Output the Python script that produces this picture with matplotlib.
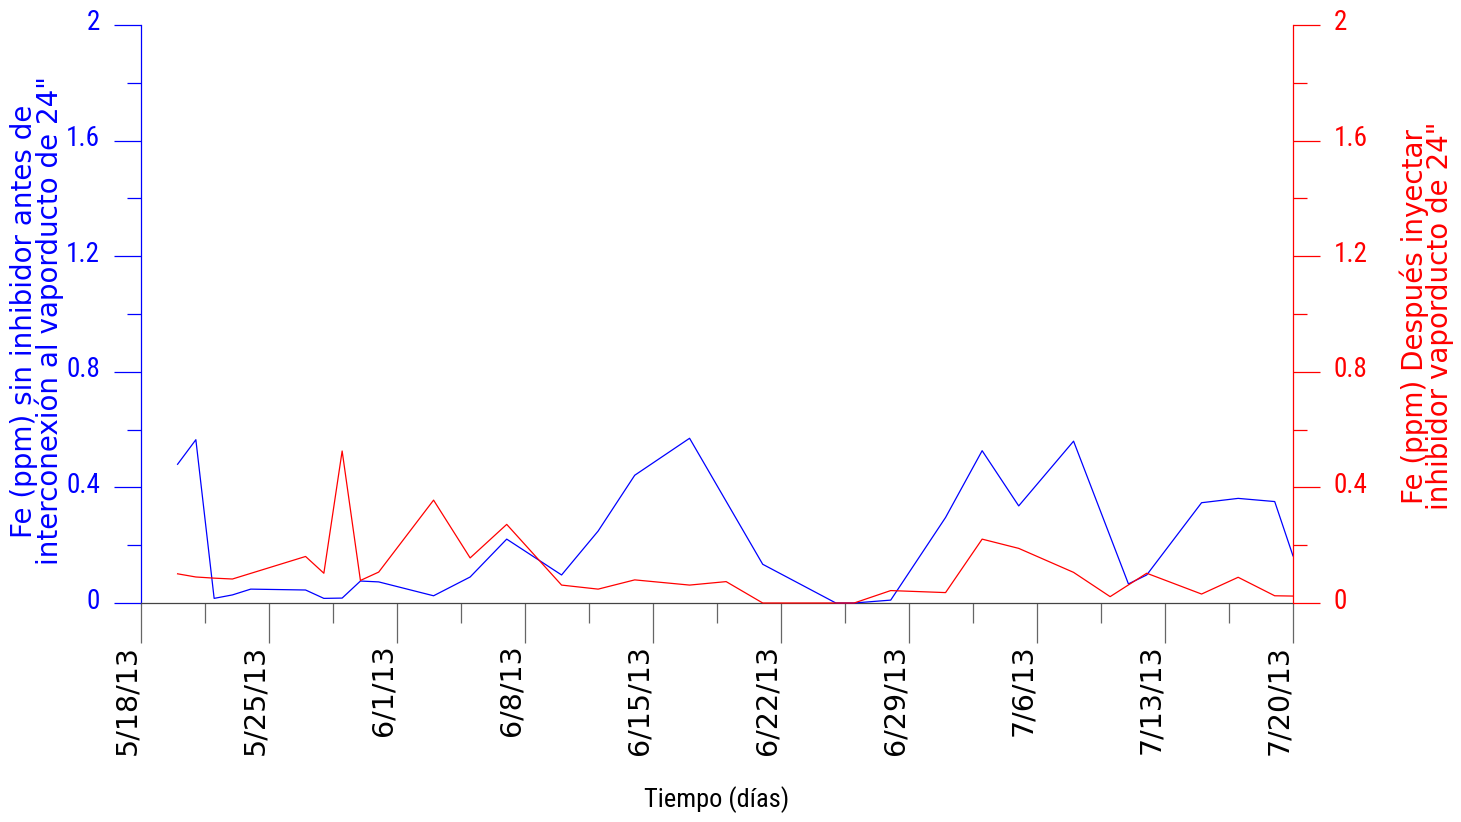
import pandas as pd
import matplotlib
matplotlib.use("Agg")
import matplotlib.pyplot as plt
import matplotlib.dates as mdates
import matplotlib.transforms as mtransforms

# Fe before inhibitor (left axis)
fe_sin_fechas = ["2013-05-20", "2013-05-21", "2013-05-22", "2013-05-23", "2013-05-24",
                 "2013-05-27", "2013-05-28", "2013-05-29", "2013-05-30", "2013-05-31",
                 "2013-06-03", "2013-06-05", "2013-06-07", "2013-06-10", "2013-06-12",
                 "2013-06-14", "2013-06-17", "2013-06-21", "2013-06-25", "2013-06-26",
                 "2013-06-28", "2013-07-01", "2013-07-03", "2013-07-05", "2013-07-08",
                 "2013-07-11", "2013-07-12", "2013-07-15", "2013-07-17", "2013-07-19",
                 "2013-07-20"]
fe_sin = [0.48, 0.565, 0.016, 0.028, 0.048,
          0.045, 0.016, 0.017, 0.076, 0.073,
          0.025, 0.090, 0.221, 0.097, 0.249,
          0.442, 0.570, 0.134, 0.0, 0.0,
          0.010, 0.296, 0.527, 0.336, 0.560,
          0.066, 0.097, 0.347, 0.362, 0.351,
          0.163]

# Fe after injecting inhibitor (right axis)
fe_con_fechas = ["2013-05-20", "2013-05-21", "2013-05-22", "2013-05-23",
                 "2013-05-27", "2013-05-28", "2013-05-29", "2013-05-30", "2013-05-31",
                 "2013-06-03", "2013-06-05", "2013-06-07", "2013-06-10", "2013-06-12",
                 "2013-06-14", "2013-06-17", "2013-06-19", "2013-06-21", "2013-06-26",
                 "2013-06-28", "2013-07-01", "2013-07-03", "2013-07-05", "2013-07-08",
                 "2013-07-10", "2013-07-12", "2013-07-15", "2013-07-17", "2013-07-19",
                 "2013-07-20"]
fe_con = [0.101, 0.090, 0.086, 0.083,
          0.161, 0.103, 0.526, 0.078, 0.107,
          0.356, 0.156, 0.272, 0.062, 0.048,
          0.080, 0.062, 0.074, 0.0, 0.0,
          0.043, 0.036, 0.221, 0.189, 0.106,
          0.022, 0.103, 0.031, 0.089, 0.025,
          0.024]

y_ticks = [0, 0.4, 0.8, 1.2, 1.6, 2]
y_labels = ["0", "0.4", "0.8", "1.2", "1.6", "2"]

narrow = ["Roboto Condensed", "Liberation Sans", "DejaVu Sans"]
wide = ["DejaVu Sans"]

W, H = 1461, 822
fig = plt.figure(figsize=(W / 100, H / 100), dpi=100)
ax = fig.add_axes([141 / W, 1 - 603 / H, 1152 / W, 578 / H])
ax2 = ax.twinx()

x1 = pd.to_datetime(fe_sin_fechas)
x2 = pd.to_datetime(fe_con_fechas)
ax.plot(x1, fe_sin, color="#0000ff", lw=0.9, clip_on=False, zorder=3)
ax2.plot(x2, fe_con, color="#ff0000", lw=0.9, clip_on=False, zorder=3)

for a in (ax, ax2):
    a.set_ylim(0, 2)
    a.set_xlim(pd.Timestamp("2013-05-18"), pd.Timestamp("2013-07-20"))
    a.spines["top"].set_visible(False)

ax.spines["right"].set_visible(False)
ax2.spines["left"].set_visible(False)
ax2.spines["bottom"].set_visible(False)
ax.spines["left"].set_color("#0000ff")
ax2.spines["right"].set_color("#ff0000")
ax.spines["bottom"].set_color("#444444")
for s in ("left", "bottom"):
    ax.spines[s].set_linewidth(0.9)
ax2.spines["right"].set_linewidth(0.9)

# x axis: weekly labels, half-week minor ticks
major = pd.date_range("2013-05-18", "2013-07-20", freq="7D")
minor = pd.date_range("2013-05-18", "2013-07-20", freq="84h")
ax.set_xticks(mdates.date2num(major))
ax.set_xticks(mdates.date2num(minor), minor=True)
ax.set_xticklabels([f"{d.month}/{d.day}/{d.year % 100}" for d in major],
                   rotation=90, ha="right", va="top", family=wide, fontsize=20.5)
ax.tick_params(axis="x", which="major", length=29, width=0.9, color="#666666", pad=1)
ax.tick_params(axis="x", which="minor", length=14.5, width=0.9, color="#666666")

# y axes
for a, col in ((ax, "#0000ff"), (ax2, "#ff0000")):
    a.set_yticks(y_ticks)
    a.set_yticks([0.2, 0.6, 1.0, 1.4, 1.8], minor=True)
    a.set_yticklabels(y_labels, family=narrow, fontsize=19.5, color=col)
    a.tick_params(axis="y", which="major", length=19.5, width=0.9, color=col, pad=10)
    a.tick_params(axis="y", which="minor", length=9.8, width=0.9, color=col)
    up = mtransforms.ScaledTranslation(0, 5 / 100, fig.dpi_scale_trans)
    for lab in a.get_yticklabels():
        lab.set_transform(lab.get_transform() + up)

fig.text(37 / W, 1 - 321 / H,
         "Fe (ppm) sin inhibidor antes de\ninterconexión al vaporducto de 24\"",
         rotation=90, ha="center", va="center", multialignment="center",
         color="#0000ff", family=wide, fontsize=20, linespacing=0.88)
fig.text(1427 / W, 1 - 316 / H,
         "Fe (ppm) Después inyectar\ninhibidor vaporducto de 24\"",
         rotation=90, ha="center", va="center", multialignment="center",
         color="#ff0000", family=wide, fontsize=20, linespacing=0.88)
fig.text(717 / W, 1 - 800 / H, "Tiempo (días)", ha="center", va="center",
         family=narrow, fontsize=19, color="black")

fig.savefig("out.png", dpi=100)
